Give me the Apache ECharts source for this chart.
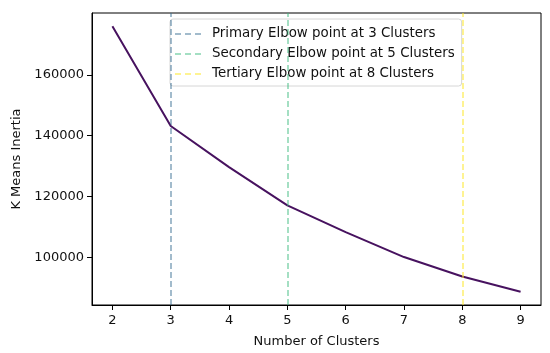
<!DOCTYPE html>
<html>
<head>
<meta charset="utf-8">
<script src="https://cdn.jsdelivr.net/npm/echarts@6/dist/echarts.min.js"></script>
<style>
  html, body { margin: 0; padding: 0; background: #fff; }
  #chart { width: 550px; height: 353px; }
</style>
</head>
<body>
<div id="chart"></div>
<script>
// 数据
const clusters = [2, 3, 4, 5, 6, 7, 8, 9];
const inertia = [176000, 143200, 129700, 117100, 108300, 100100, 93700, 88700];
const xTicks = [2, 3, 4, 5, 6, 7, 8, 9];
const yTicks = [100000, 120000, 140000, 160000];
const elbowNames = [
  'Primary Elbow point at 3 Clusters',
  'Secondary Elbow point at 5 Clusters',
  'Tertiary Elbow point at 8 Clusters'
];
const elbowX = [3, 5, 8];
const elbowColors = ['rgba(49,104,142,0.45)', 'rgba(53,183,121,0.45)', 'rgba(253,231,37,0.5)'];

// matplotlib 的 5% 边距
const xPad = (Math.max(...clusters) - Math.min(...clusters)) * 0.05;
const yPad = (Math.max(...inertia) - Math.min(...inertia)) * 0.05;

const dashIcon = 'path://M0,0h6v2h-6z M10,0h6v2h-6z M20,0h6v2h-6z';

let seriesData = [{
  type: 'line',
  data: clusters.map((c, i) => [c, inertia[i]]),
  symbol: 'none',
  lineStyle: { color: '#47125f', width: 2 },
  z: 3
}];
for (let i = 0; i < elbowX.length; i++) {
  seriesData.push({
    name: elbowNames[i],
    type: 'line',
    data: [],
    itemStyle: { color: elbowColors[i] },
    lineStyle: { color: elbowColors[i] },
    markLine: {
      silent: true,
      symbol: 'none',
      label: { show: false },
      lineStyle: { color: elbowColors[i], type: [6, 3], width: 2 },
      data: [{ xAxis: elbowX[i] }]
    }
  });
}

let chart = echarts.init(document.getElementById('chart'));
let option = {
  animation: false,
  textStyle: { fontFamily: 'DejaVu Sans' },
  grid: {
    left: 92, right: 9, top: 13, bottom: 48,
    show: true, borderColor: '#000', borderWidth: 1, backgroundColor: 'transparent'
  },
  legend: {
    orient: 'vertical',
    left: 170,
    top: 19,
    data: elbowNames.map((n, i) => ({ name: n, icon: dashIcon, itemStyle: { color: elbowColors[i] } })),
    itemWidth: 28,
    itemHeight: 2,
    itemGap: 6,
    padding: [8, 7, 5, 5],
    backgroundColor: '#fff',
    borderColor: '#d6d6d6',
    borderWidth: 1,
    borderRadius: 3,
    selectedMode: false,
    textStyle: { fontSize: 13.4, lineHeight: 14, color: '#111', fontFamily: 'DejaVu Sans', padding: [0, 0, 0, 5] }
  },
  xAxis: {
    type: 'value',
    min: Math.min(...clusters) - xPad,
    max: Math.max(...clusters) + xPad,
    name: 'Number of Clusters',
    nameLocation: 'middle',
    nameGap: 30,
    nameTextStyle: { fontSize: 13, color: '#111' },
    splitLine: { show: false },
    axisLine: { show: true, onZero: false, lineStyle: { color: '#000' } },
    axisTick: { show: true, length: 5, lineStyle: { color: '#000' }, customValues: xTicks },
    axisLabel: { fontSize: 13, color: '#111', margin: 9, customValues: xTicks }
  },
  yAxis: {
    type: 'value',
    min: Math.min(...inertia) - yPad,
    max: Math.max(...inertia) + yPad,
    name: 'K Means Inertia',
    nameLocation: 'middle',
    nameGap: 66,
    nameTextStyle: { fontSize: 13, color: '#111' },
    splitLine: { show: false },
    axisLine: { show: true, onZero: false, lineStyle: { color: '#000' } },
    axisTick: { show: true, length: 5, lineStyle: { color: '#000' }, customValues: yTicks },
    axisLabel: {
      fontSize: 13, color: '#111', margin: 8, customValues: yTicks,
      formatter: v => String(v)
    }
  },
  series: seriesData
};
chart.setOption(option);
</script>
</body>
</html>
